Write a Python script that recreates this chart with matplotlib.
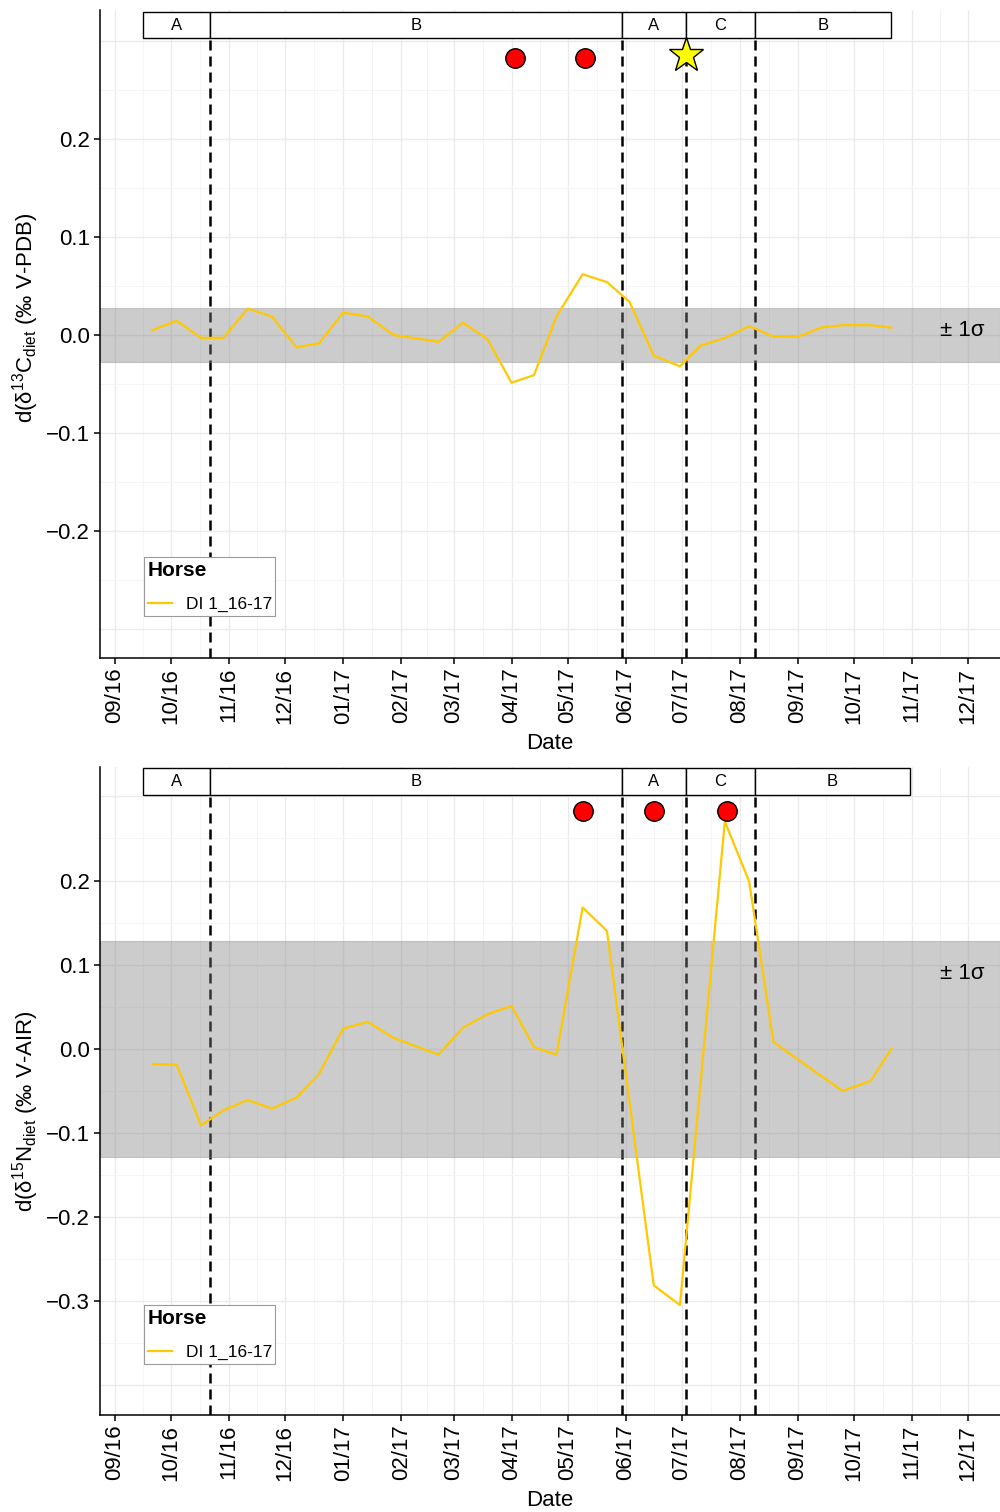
import matplotlib
matplotlib.use("Agg")
import matplotlib.pyplot as plt
import matplotlib.dates as mdates
from matplotlib.patches import Rectangle
import pandas as pd

plt.rcParams["font.family"] = ["Liberation Sans", "DejaVu Sans"]
plt.rcParams["mathtext.fontset"] = "custom"
plt.rcParams["mathtext.rm"] = "Liberation Sans"
plt.rcParams["mathtext.it"] = "Liberation Sans:italic"
plt.rcParams["mathtext.bf"] = "Liberation Sans:bold"

# carbon offsets per sampling date
c_dates = ["2016-09-21", "2016-10-04", "2016-10-17", "2016-10-29", "2016-11-11",
           "2016-11-24", "2016-12-07", "2016-12-19", "2017-01-01", "2017-01-14",
           "2017-01-28", "2017-02-21", "2017-03-06", "2017-03-19", "2017-04-01",
           "2017-04-13", "2017-04-25", "2017-05-09", "2017-05-22", "2017-06-03",
           "2017-06-16", "2017-06-30", "2017-07-11", "2017-07-24", "2017-08-06",
           "2017-08-19", "2017-09-01", "2017-09-14", "2017-09-25", "2017-10-10",
           "2017-10-21"]
c_values = [0.005, 0.0146, -0.003, -0.003, 0.027,
            0.0187, -0.0126, -0.0085, 0.0228, 0.019,
            0.0, -0.007, 0.0126, -0.004, -0.0487,
            -0.041, 0.019, 0.062, 0.054, 0.034,
            -0.021, -0.032, -0.011, -0.003, 0.009,
            -0.0017, -0.0017, 0.0078, 0.010, 0.010,
            0.0075]

# nitrogen offsets per sampling date
n_dates = ["2016-09-21", "2016-10-04", "2016-10-17", "2016-10-29", "2016-11-11",
           "2016-11-24", "2016-12-07", "2016-12-19", "2017-01-01", "2017-01-14",
           "2017-01-28", "2017-02-21", "2017-03-06", "2017-03-19", "2017-04-01",
           "2017-04-13", "2017-04-25", "2017-05-09", "2017-05-22", "2017-06-16",
           "2017-06-30", "2017-07-24", "2017-08-06", "2017-08-19", "2017-09-14",
           "2017-09-25", "2017-10-10", "2017-10-21"]
n_values = [-0.018, -0.019, -0.091, -0.073, -0.061,
            -0.071, -0.058, -0.030, 0.024, 0.032,
            0.013, -0.007, 0.025, 0.041, 0.051,
            0.002, -0.007, 0.168, 0.140, -0.281,
            -0.3045, 0.270, 0.199, 0.008, -0.033,
            -0.050, -0.038, 0.000]

phase_names = ["A", "B", "A", "C", "B"]
phase_starts = ["2016-09-16", "2016-10-22", "2017-05-30", "2017-07-03", "2017-08-09"]
c_phase_end = "2017-10-21"
n_phase_end = "2017-10-31"

c_sigma = 0.028
n_sigma = 0.128

c_events = ["2017-04-03", "2017-05-10"]
c_stars = ["2017-07-03"]
n_events = ["2017-05-09", "2017-06-16", "2017-07-25"]

month_ticks = pd.date_range("2016-09-01", "2017-12-01", freq="MS")
line_color = "#FFC800"


def num(d):
    return mdates.date2num(pd.to_datetime(d))


def draw_panel(ax, dates, values, sigma, ylim, yticks, ylabel, label_y,
               phase_end, box, events, stars, legend_y, sigma_y):
    origin = num("2016-09-01")
    ax.set_xlim(origin - 8.0, origin + 473.1)
    ax.set_ylim(*ylim)

    # grid: months / mid-months, 0.1 / 0.05
    majors = num(month_ticks)
    for x in majors:
        ax.axvline(x, color="#EBEBEB", lw=1.0, zorder=0)
    for a, b in zip(majors[:-1], majors[1:]):
        ax.axvline((a + b) / 2, color="#F4F4F4", lw=0.6, zorder=0)
    y = -0.45
    while y < 0.36:
        major = abs(round(y * 10) - y * 10) < 1e-6
        ax.axhline(y, color="#EBEBEB" if major else "#F4F4F4",
                   lw=1.0 if major else 0.6, zorder=0)
        y = round(y + 0.05, 2)

    # phase boundaries
    bounds = [num(d) for d in phase_starts] + [num(phase_end)]
    ax.vlines(bounds[1:5], ylim[0], box[0], colors="black",
              linestyles=(0, (4, 2.4)), lw=1.8, zorder=1)

    ax.axhspan(-sigma, sigma, facecolor="grey", alpha=0.4,
               edgecolor="#8C8C8C", lw=0.8, zorder=2)

    ax.plot(num(dates), values, color=line_color, lw=1.6, zorder=3,
            label="DI 1_16-17")

    for name, a, b in zip(phase_names, bounds[:-1], bounds[1:]):
        ax.add_patch(Rectangle((a, box[0]), b - a, box[1] - box[0],
                               facecolor="white", edgecolor="black",
                               lw=1.0, zorder=4))
        ax.text((a + b) / 2, (box[0] + box[1]) / 2, name, ha="center",
                va="center", fontsize=12, zorder=5)

    ax.plot(num(events), [0.283] * len(events), "o", ms=14, mfc="red",
            mec="black", mew=1.0, zorder=6, clip_on=False)
    if stars:
        ax.plot(num(stars), [0.286] * len(stars), "*", ms=26, mfc="yellow",
                mec="black", mew=1.0, zorder=6, clip_on=False)

    ax.text(0.958, sigma_y, "± 1σ", transform=ax.get_yaxis_transform(),
            ha="center", va="center", fontsize=16)

    ax.set_xticks(majors)
    ax.set_xticklabels([d.strftime("%m/%y") for d in month_ticks],
                       rotation=90, fontsize=16)
    ax.set_yticks(yticks)
    ax.set_yticklabels([f"{v:.1f}".replace("-", "\u2212") for v in yticks],
                       fontsize=16)
    ax.tick_params(length=4, width=1.1, color="black", pad=3)
    ax.set_xlabel("Date", fontsize=16, labelpad=7)
    ax.set_ylabel(ylabel, fontsize=16)
    ax.yaxis.set_label_coords(-0.066, label_y)

    for side in ["top", "right"]:
        ax.spines[side].set_visible(False)
    for side in ["left", "bottom"]:
        ax.spines[side].set_linewidth(1.1)

    leg = ax.legend(loc="lower left", bbox_to_anchor=(0.049, legend_y),
                    borderaxespad=0, title="Horse", fontsize=12.5,
                    title_fontproperties={"weight": "bold", "size": 15},
                    alignment="left", fancybox=False, framealpha=1,
                    edgecolor="#9A9A9A", handlelength=1.4, borderpad=0.2,
                    handletextpad=0.8, labelspacing=1.0)
    leg.get_frame().set_linewidth(0.8)
    leg.set_zorder(7)


fig = plt.figure(figsize=(10, 15.12), dpi=100)
ax_c = fig.add_axes([0.1, 0.5648, 0.9, 0.4286])
ax_n = fig.add_axes([0.1, 0.0642, 0.9, 0.4286])

draw_panel(ax_c, c_dates, c_values, c_sigma, (-0.330, 0.332),
           [-0.2, -0.1, 0.0, 0.1, 0.2],
           r"d(δ$^{13}$C$_{\mathrm{diet}}$ (‰ V-PDB)", 0.525, c_phase_end,
           (0.303, 0.330), c_events, c_stars, 0.065, 0.005)
draw_panel(ax_n, n_dates, n_values, n_sigma, (-0.435, 0.335),
           [-0.3, -0.2, -0.1, 0.0, 0.1, 0.2],
           r"d(δ$^{15}$N$_{\mathrm{diet}}$ (‰ V-AIR)", 0.469, n_phase_end,
           (0.302, 0.334), n_events, [], 0.079, 0.090)

fig.savefig("out.png", dpi=100)
